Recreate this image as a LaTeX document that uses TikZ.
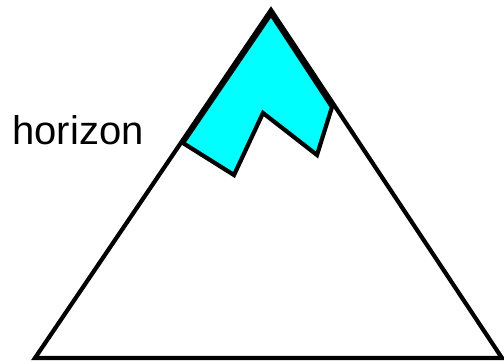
\documentclass[tikz,border=0pt]{standalone}
\usepackage{fontspec}
\setmainfont{Liberation Sans}
\definecolor{snowcyan}{RGB}{0,255,255}
\begin{document}
\begin{tikzpicture}[x=1pt,y=-1pt,
  edge/.style={draw=black,line width=4.2pt},
  snow/.style={edge,fill=snowcyan},
  lbl/.style={inner sep=0pt,anchor=base west,font=\fontsize{40}{46}\selectfont}]
\useasboundingbox (0,0) rectangle (504,364);
\coordinate (A) at (271,10);
\coordinate (L) at (35,358);
\coordinate (R) at (502,358);
\draw[edge] (A) -- (L) -- (R) -- cycle;
\coordinate (p1) at (271,14);
\coordinate (p2) at (183,143);
\coordinate (p3) at (234,175);
\coordinate (p4) at (263,113);
\coordinate (p5) at (317,155);
\coordinate (p6) at (332,107);
\draw[snow] (p1) -- (p2) -- (p3) -- (p4) -- (p5) -- (p6) -- cycle;
\node[lbl] (h) at (12.2,144) {horizon};
\end{tikzpicture}
\end{document}
